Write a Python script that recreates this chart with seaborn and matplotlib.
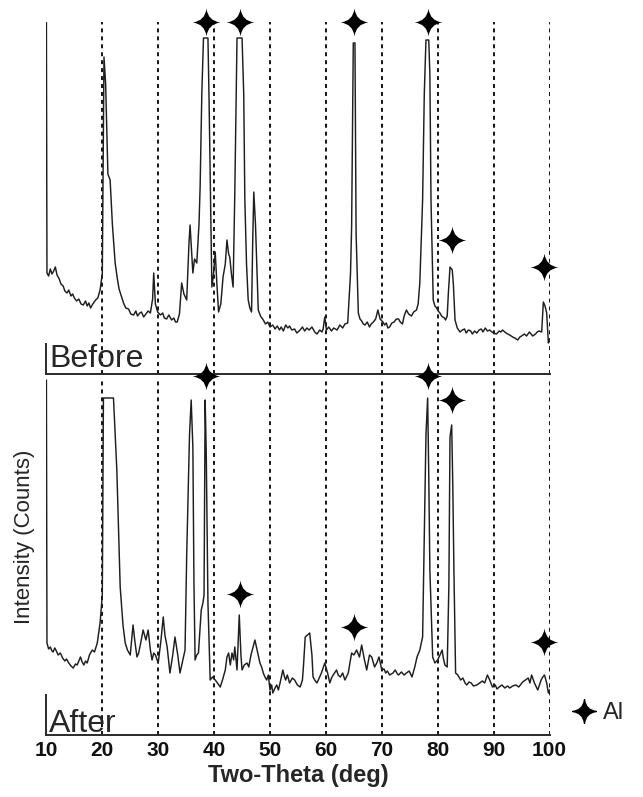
import matplotlib
matplotlib.use("Agg")
import matplotlib.pyplot as plt
import seaborn as sns
from matplotlib.path import Path
from matplotlib.lines import Line2D

# XRD pattern before treatment (two-theta in deg, intensity in arbitrary counts)
theta_before = [10.0, 10.1, 10.4, 10.7, 11.0, 11.3, 11.6, 11.9, 12.3, 12.6,
                13.0, 13.3, 13.7, 14.0, 14.4, 14.7, 15.0, 15.4, 15.8, 16.2,
                16.6, 17.0, 17.3, 17.6, 17.9, 18.3, 18.8, 19.2, 19.6, 20.0,
                20.3, 20.6, 21.0, 21.4, 21.8, 22.3, 22.7, 23.0, 23.4, 23.8,
                24.2, 24.7, 25.1, 25.6, 26.0, 26.3, 26.7, 27.0, 27.4, 27.8,
                28.2, 28.6, 29.0, 29.2, 29.5, 29.9, 30.4, 30.8, 31.1, 31.5,
                31.9, 32.4, 32.8, 33.1, 33.4, 33.8, 34.2, 34.6, 35.1, 35.5,
                35.7, 36.0, 36.2, 36.5, 36.9, 37.3, 37.5, 37.8, 38.1, 38.9,
                39.1, 39.4, 39.6, 39.9, 40.2, 40.5, 40.8, 41.2, 41.6, 42.0,
                42.3, 42.6, 42.8, 43.1, 43.4, 43.7, 44.1, 45.0, 45.3, 45.5,
                45.8, 46.1, 46.4, 46.7, 46.9, 47.1, 47.4, 47.9, 48.3, 48.8,
                49.2, 49.6, 50.0, 50.5, 50.9, 51.3, 51.7, 52.0, 52.4, 52.8,
                53.2, 53.5, 53.9, 54.4, 54.8, 55.4, 55.8, 56.2, 56.6, 57.0,
                57.5, 58.0, 58.4, 58.9, 59.3, 59.5, 59.8, 60.1, 60.5, 61.0,
                61.4, 62.0, 62.5, 63.0, 63.4, 63.9, 64.4, 64.6, 64.9, 65.2,
                65.4, 65.8, 66.1, 66.4, 66.7, 67.0, 67.4, 67.8, 68.1, 68.5,
                68.9, 69.3, 69.7, 70.2, 70.5, 70.8, 71.1, 71.4, 71.8, 72.2,
                72.6, 73.0, 73.3, 73.7, 74.0, 74.4, 74.8, 75.3, 75.7, 76.2,
                76.5, 76.8, 77.3, 77.6, 77.9, 78.4, 78.6, 78.8, 79.2, 79.5,
                79.8, 80.1, 80.4, 80.7, 80.9, 81.2, 81.4, 81.7, 81.9, 82.2,
                82.6, 82.8, 83.1, 83.5, 84.0, 84.4, 84.8, 85.1, 85.5, 85.9,
                86.2, 86.6, 87.0, 87.4, 87.8, 88.1, 88.5, 88.9, 89.3, 89.7,
                90.0, 90.5, 91.0, 91.3, 91.6, 92.0, 92.5, 92.9, 93.4, 93.8,
                94.3, 94.7, 95.0, 95.5, 95.9, 96.4, 96.7, 97.0, 97.5, 97.8,
                98.1, 98.6, 98.9, 99.2, 99.5, 99.8, 100.0]
counts_before = [352, 101, 98, 105, 100, 103, 107, 99, 95, 90,
                 88, 83, 81, 84, 78, 80, 76, 73, 75, 70,
                 69, 73, 68, 71, 66, 70, 74, 76, 84, 100,
                 317, 290, 200, 194, 150, 111, 95, 85, 78, 71,
                 66, 65, 60, 59, 63, 58, 61, 62, 57, 60,
                 63, 61, 75, 101, 70, 62, 59, 61, 56, 55,
                 59, 54, 56, 52, 52, 60, 91, 80, 74, 130,
                 149, 120, 101, 115, 111, 150, 187, 280, 336, 336,
                 274, 160, 87, 100, 122, 90, 62, 70, 97, 110,
                 134, 120, 117, 100, 87, 180, 336, 336, 280, 174,
                 110, 74, 66, 62, 130, 182, 150, 64, 58, 54,
                 50, 52, 47, 49, 45, 48, 44, 47, 43, 49,
                 46, 48, 44, 45, 41, 44, 47, 43, 46, 44,
                 47, 42, 40, 44, 42, 45, 57, 44, 47, 43,
                 46, 44, 49, 46, 50, 51, 100, 147, 331, 331,
                 141, 61, 55, 53, 50, 49, 52, 47, 50, 52,
                 55, 64, 55, 52, 49, 51, 46, 47, 51, 52,
                 55, 55, 52, 50, 58, 64, 60, 58, 62, 64,
                 70, 91, 174, 280, 334, 334, 300, 174, 74, 68,
                 66, 63, 61, 58, 57, 56, 54, 58, 80, 107,
                 104, 90, 54, 46, 42, 44, 45, 41, 44, 43,
                 40, 43, 41, 44, 45, 42, 46, 43, 44, 42,
                 41, 40, 43, 42, 44, 42, 40, 39, 37, 36,
                 34, 37, 38, 40, 38, 42, 40, 38, 40, 42,
                 43, 42, 72, 68, 61, 31, 35]

# XRD pattern after treatment
theta_after = [10.0, 10.1, 10.4, 10.7, 11.0, 11.2, 11.5, 11.7, 12.1, 12.5,
               12.9, 13.3, 13.6, 14.0, 14.4, 14.8, 15.2, 15.5, 15.8, 16.1,
               16.4, 16.7, 17.0, 17.3, 17.7, 18.2, 18.6, 19.1, 19.6, 20.0,
               20.2, 22.0, 22.3, 22.6, 23.2, 23.7, 24.1, 24.5, 25.0, 25.5,
               25.8, 26.2, 26.5, 26.8, 27.3, 27.8, 28.2, 28.6, 28.9, 29.2,
               29.5, 30.0, 30.5, 30.9, 31.2, 31.6, 32.1, 32.6, 33.0, 33.5,
               33.9, 34.4, 34.8, 35.1, 35.4, 35.6, 35.9, 36.2, 36.4, 36.6,
               36.9, 37.2, 37.7, 38.0, 38.2, 38.4, 38.6, 38.9, 39.3, 39.7,
               40.2, 40.6, 41.1, 41.5, 42.0, 42.3, 42.6, 42.9, 43.2, 43.5,
               43.7, 44.1, 44.5, 44.8, 45.0, 45.4, 45.9, 46.2, 46.6, 47.3,
               47.8, 48.2, 48.5, 48.8, 49.1, 49.4, 49.7, 50.0, 50.3, 50.5,
               50.9, 51.2, 51.5, 51.8, 52.3, 52.6, 52.8, 53.1, 53.5, 54.0,
               54.4, 54.9, 55.4, 55.8, 56.0, 56.3, 56.7, 57.1, 57.5, 57.7,
               58.0, 58.4, 58.8, 59.2, 59.8, 60.3, 60.7, 61.0, 61.3, 61.9,
               62.2, 62.6, 63.0, 63.4, 64.0, 64.6, 65.0, 65.5, 66.0, 66.4,
               66.9, 67.3, 67.8, 68.2, 68.7, 69.1, 69.5, 70.0, 70.4, 70.7,
               71.0, 71.4, 72.0, 72.4, 72.8, 73.0, 73.5, 74.0, 74.4, 74.9,
               75.4, 75.9, 76.3, 76.8, 77.3, 77.6, 77.9, 78.2, 78.4, 78.6,
               79.1, 79.5, 80.0, 80.4, 80.8, 81.0, 81.3, 81.7, 82.0, 82.2,
               82.5, 82.7, 82.9, 83.2, 83.6, 84.1, 84.5, 84.9, 85.2, 85.6,
               86.0, 86.4, 87.0, 87.5, 88.0, 88.4, 88.9, 89.3, 89.8, 90.3,
               90.6, 91.0, 91.5, 92.0, 92.5, 92.9, 93.4, 94.0, 94.5, 95.2,
               95.7, 96.2, 96.5, 96.8, 97.3, 97.9, 98.2, 98.5, 98.8, 99.1,
               99.5, 99.8, 100.0]
counts_after = [355, 92, 86, 88, 84, 83, 87, 85, 80, 82,
                77, 74, 76, 72, 69, 67, 71, 70, 74, 78,
                73, 70, 74, 72, 80, 85, 83, 92, 112, 140,
                337, 337, 300, 265, 148, 110, 92, 85, 80, 110,
                95, 78, 82, 90, 105, 95, 105, 85, 75, 82,
                80, 72, 95, 118, 100, 88, 62, 80, 98, 80,
                62, 75, 85, 180, 252, 300, 335, 288, 150, 75,
                80, 82, 125, 132, 140, 335, 280, 132, 55, 58,
                55, 52, 48, 55, 65, 78, 82, 70, 82, 75,
                88, 65, 120, 80, 65, 70, 72, 68, 80, 95,
                82, 72, 68, 62, 58, 55, 60, 45, 50, 42,
                47, 50, 45, 52, 65, 58, 55, 60, 52, 57,
                55, 50, 48, 55, 70, 98, 100, 102, 80, 58,
                55, 52, 57, 62, 72, 62, 52, 57, 60, 65,
                60, 58, 62, 55, 62, 82, 80, 85, 78, 90,
                75, 65, 80, 78, 68, 72, 78, 65, 66, 62,
                64, 60, 62, 65, 61, 60, 63, 60, 62, 64,
                58, 68, 78, 85, 98, 200, 300, 337, 260, 165,
                78, 72, 75, 80, 85, 77, 70, 68, 150, 298,
                310, 250, 165, 62, 60, 55, 57, 52, 50, 53,
                52, 49, 50, 52, 54, 52, 60, 55, 48, 50,
                46, 48, 50, 47, 49, 47, 49, 50, 48, 53,
                55, 57, 52, 60, 52, 45, 50, 55, 58, 60,
                52, 42, 45]

# Al reflections and the heights of their markers in each panel
al_peaks = [38.5, 44.7, 65.1, 78.2, 82.5, 99.1]
al_marks_before = [352, 352, 352, 352, 134, 107]
al_marks_after = [359, 141, 108, 359, 335, 93]

grid_x = [20, 30, 40, 50, 60, 70, 80, 90, 100]
xticks = [10, 20, 30, 40, 50, 60, 70, 80, 90, 100]

sns.set_style("white")
plt.rcParams["font.family"] = ["Liberation Sans", "DejaVu Sans"]

# four-pointed star with concave sides
c = 0.11
star = Path(
    [(0, 1), (c, c), (1, 0), (c, -c), (0, -1), (-c, -c), (-1, 0), (-c, c), (0, 1), (0, 1)],
    [Path.MOVETO] + [Path.CURVE3] * 8 + [Path.CLOSEPOLY],
)

W, H = 643, 797
fig = plt.figure(figsize=(W / 100, H / 100), dpi=100)
x0, x1 = 46.4, 549.5
ax_top = fig.add_axes([x0 / W, 1 - 374 / H, (x1 - x0) / W, (374 - 22) / H])
ax_bot = fig.add_axes([x0 / W, 1 - 735 / H, (x1 - x0) / W, (735 - 378) / H])

panels = [
    (ax_top, theta_before, counts_before, al_marks_before, 352, 30, "Before", 7),
    (ax_bot, theta_after, counts_after, al_marks_after, 357, 40, "After", 3),
]

for ax, tx, cy, marks, ytop, spine_len, label, label_y in panels:
    for g in grid_x:
        ax.axvline(g, color="black", lw=1.3, ls=(0, (2.2, 2.2)), zorder=1)
    sns.lineplot(x=tx, y=cy, ax=ax, color="#1e1e1e", lw=1.05,
                 estimator=None, sort=False, legend=False, zorder=3)
    sns.scatterplot(x=al_peaks, y=marks, ax=ax, marker=star, s=400, color="black",
                    linewidth=0, clip_on=False, zorder=6, legend=False)
    ax.set_xlim(10, 100)
    ax.set_ylim(0, ytop)
    ax.set_yticks([])
    ax.set_xticks(xticks)
    ax.set_ylabel("")
    ax.set_xlabel("")
    for s in ["top", "right"]:
        ax.spines[s].set_visible(False)
    for s in ["left", "bottom"]:
        ax.spines[s].set_color("#2a2a2a")
        ax.spines[s].set_linewidth(1.4)
    ax.spines["left"].set_bounds(0, spine_len)
    ax.text(10.5, label_y, label, fontsize=23, va="baseline", ha="left", zorder=7)
    ax.patch.set_alpha(0)

ax_top.tick_params(axis="x", length=0, labelbottom=False)
ax_bot.tick_params(axis="x", length=0, pad=4, labelsize=15, labelcolor="#111111")
for t in ax_bot.get_xticklabels():
    t.set_fontweight("bold")

ax_bot.set_xlabel("Two-Theta (deg)", fontsize=17, fontweight="bold", labelpad=3)
ax_bot.set_ylabel("Intensity (Counts)", fontsize=16)
ax_bot.yaxis.set_label_coords(-0.023, 0.555)

handle = Line2D([], [], marker=star, ls="none", color="black", markersize=17)
fig.legend(handles=[handle], labels=["Al"], loc="center left",
           bbox_to_anchor=(572 / W, 1 - 713 / H), frameon=False, fontsize=17,
           handlelength=1.0, handletextpad=0.3, borderpad=0, borderaxespad=0)

fig.savefig("out.png", dpi=100)
